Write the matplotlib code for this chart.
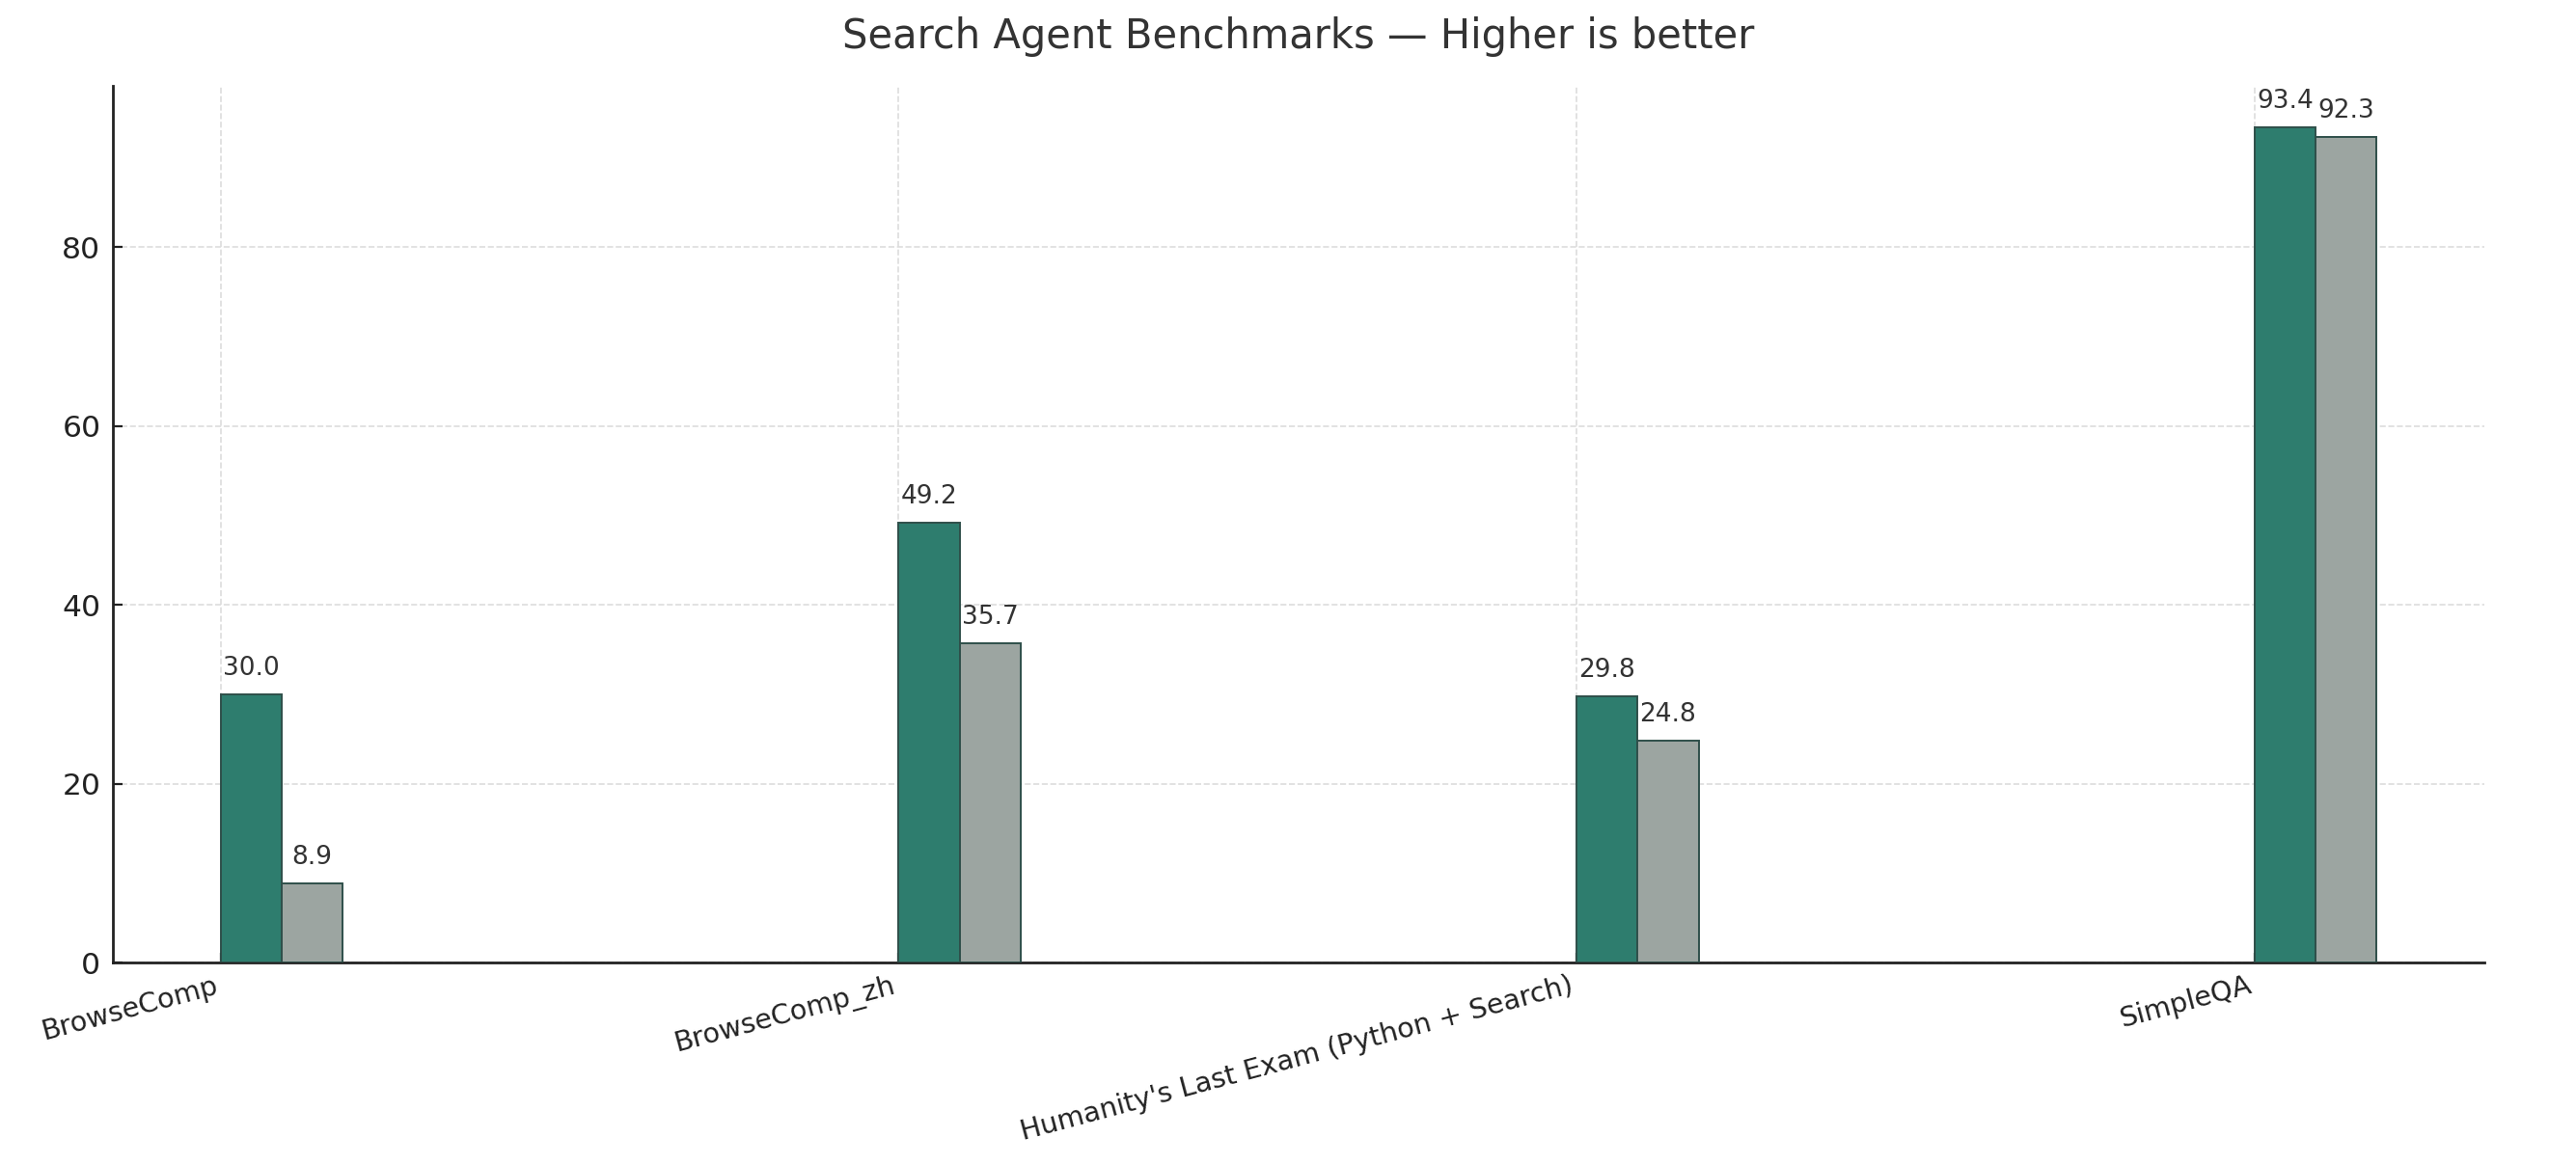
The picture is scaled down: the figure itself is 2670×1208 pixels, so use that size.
import matplotlib
matplotlib.use("Agg")
import matplotlib.pyplot as plt
import numpy as np

benchmarks = ["BrowseComp", "BrowseComp_zh",
              "Humanity's Last Exam (Python + Search)", "SimpleQA"]
model_a = [30.0, 49.2, 29.8, 93.4]
model_b = [8.9, 35.7, 24.8, 92.3]

green = "#2e7d6e"
grey = "#9ca5a1"
edge = "#2f4f4a"
text_col = "#333333"

fig = plt.figure(figsize=(13.35, 6.04), dpi=200)
ax = fig.add_subplot(111)
fig.subplots_adjust(left=0.0438, right=0.9644, top=0.9267, bottom=0.1738)

x = np.arange(len(benchmarks))
w = 0.09
bars_a = ax.bar(x, model_a, width=w, align='edge', color=green,
                edgecolor=edge, linewidth=0.7, zorder=3)
bars_b = ax.bar(x + w, model_b, width=w, align='edge', color=grey,
                edgecolor=edge, linewidth=0.7, zorder=3)

for bars, vals in ((bars_a, model_a), (bars_b, model_b)):
    for b, v in zip(bars, vals):
        ax.text(b.get_x() + b.get_width() / 2, v + 1.5, f"{v:.1f}",
                ha='center', va='bottom', fontsize=9.5, color=text_col, zorder=4)

ax.set_xticks(x)
ax.set_xticklabels(benchmarks, rotation=15, ha='right', fontsize=10.3,
                   color="#222222")
ax.set_yticks([0, 20, 40, 60, 80])
ax.tick_params(axis='y', labelsize=11.3, colors="#222222", direction='in', pad=4.5)
ax.tick_params(axis='x', colors="#222222", direction='in', pad=3.5)

ax.grid(True, linestyle='--', linewidth=0.6, color="#dddddd", zorder=0)
ax.set_axisbelow(True)
for s in ("top", "right"):
    ax.spines[s].set_visible(False)
for s in ("left", "bottom"):
    ax.spines[s].set_color("#222222")
    ax.spines[s].set_linewidth(1.0)

ax.set_title("Search Agent Benchmarks — Higher is better", fontsize=15,
             color=text_col, pad=14)

fig.savefig("out.png", dpi=200)
